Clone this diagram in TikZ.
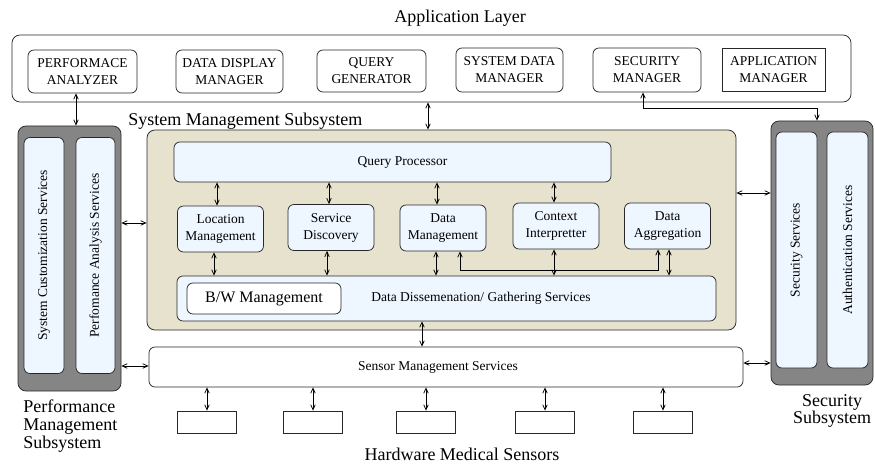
\documentclass[tikz,border=0pt]{standalone}
\usepackage{fontspec}
\setmainfont{Liberation Serif}
\usepackage{xcolor}
\usetikzlibrary{arrows.meta}
\definecolor{sysbeige}{RGB}{230,226,205}
\definecolor{svcblue}{RGB}{238,246,255}
\definecolor{subgray}{RGB}{133,133,133}
\definecolor{edgegray}{RGB}{40,40,40}

\begin{document}
\begin{tikzpicture}
	[x=1pt,y=-1pt,line width=0.75pt,>={Straight Barb[length=5pt,width=4.5pt]},
	every node/.style={font=\fontsize{13.5}{17}\selectfont,align=center,inner sep=0pt},
	bigl/.style={font=\fontsize{18}{18}\selectfont},
	box/.style={draw=edgegray,rounded corners=6pt},
	svc/.style={box,fill=svcblue,minimum width=86pt,minimum height=46pt},
	subsys/.style={draw=edgegray,fill=subgray,rounded corners=8pt},
	column/.style={svc,rotate=90,minimum width=236pt,minimum height=40pt}]
	\useasboundingbox (0,0) rectangle (875,465);
	\node[bigl] (applbl) at (460,18) {Application Layer};
	\node[box,rounded corners=8pt,minimum width=839pt,minimum height=67pt] (app) at (431.5,68.5) {};
	\node[box,minimum width=109pt,minimum height=43pt] (pa) at (82.5,71.5) {PERFORMACE\\ANALYZER};
	\node[box,minimum width=107pt,minimum height=43pt] (ddm) at (229.5,71.5) {DATA DISPLAY\\MANAGER};
	\node[box,minimum width=109pt,minimum height=42pt] (qg) at (371.5,71) {QUERY\\GENERATOR};
	\node[box,minimum width=107pt,minimum height=44pt] (sdm) at (509.5,70) {SYSTEM DATA\\MANAGER};
	\node[box,minimum width=108pt,minimum height=44pt] (sm) at (647,70) {SECURITY\\MANAGER};
	\node[draw=edgegray,minimum width=103pt,minimum height=43pt] (am) at (773.5,69.5) {APPLICATION\\MANAGER};
	\node[subsys,minimum width=103pt,minimum height=265pt] (perf) at (69.5,258.5) {};
	\node[column] (scs) at (44,255.5) {System Customization Services};
	\node[column,minimum height=39pt] (pas) at (95.5,255.5) {Perfomance Analysis Services};
	\node[subsys,minimum width=102pt,minimum height=264pt] (sec) at (822,253) {};
	\node[column,minimum height=41pt] (ss) at (796.5,250) {Security Services};
	\node[column,minimum height=41pt] (as) at (847.5,250) {Authentication Services};
	\node[bigl,anchor=west] (smslbl) at (128,121) {System Management Subsystem};
	\node[draw=edgegray,fill=sysbeige,rounded corners=8pt,minimum width=589pt,minimum height=200pt] (sys) at (441.5,230) {};
	\node[svc,minimum width=437pt,minimum height=40pt,label={[xshift=10pt]center:Query Processor}] (qp) at (392.5,162) {};
	\node[svc] (loc) at (220.5,229) {Location\\Management};
	\node[svc] (sd) at (331,227.5) {Service\\Discovery};
	\node[svc] (dm) at (443,228) {Data\\Management};
	\node[svc] (ci) at (556,226) {Context\\Interpretter};
	\node[svc] (da) at (667.5,226) {Data\\Aggregation};
	\node[svc,minimum width=539pt,minimum height=45pt,label={[xshift=34.5pt]center:Data Dissemenation/ Gathering Services}] (dd) at (446.5,298.5) {};
	\node[box,fill=white,minimum width=154pt,minimum height=31pt,font=\fontsize{16}{19}\selectfont] (bw) at (264,298.5) {B/W Management};
	\node[box,fill=white,minimum width=594pt,minimum height=40pt,label={[xshift=-8pt]center:Sensor Management Services}] (sensor) at (446,367) {};
	\node[bigl,align=left,anchor=west] (pmslbl) at (23,426) {Performance\\Management\\Subsystem};
	\node[bigl,font=\fontsize{18}{17}\selectfont] (sslbl) at (832,411) {Security\\Subsystem};
	\node[bigl] (hwlbl) at (462,454) {Hardware Medical Sensors};
	\foreach \x [count=\i] in {207,313,426,545,663}
	{
		\node[draw=edgegray,minimum width=59pt,minimum height=22pt] (hw\i) at (\x,422) {};
		\draw[<->] (hw\i.north) -- (hw\i.north |- sensor.south);
	}
	\draw[<->] (pa.south -| 76,0) -- (perf.north -| 76,0);
	\draw[<->] (app.south -| 428,0) -- (sys.north -| 428,0);
	\draw[<->] ([xshift=-4pt]sm.south) -- ++(0,16) -| ([xshift=-5pt]sec.north);
	\draw[<->] (perf.east |- 0,223) -- (sys.west |- 0,223);
	\draw[<->] (sys.east |- 0,193) -- (sec.west |- 0,193);
	\draw[<->] (perf.east |- 0,366) -- (sensor.west |- 0,366);
	\draw[<->] (sensor.east |- 0,363) -- (sec.west |- 0,363);
	\draw[<->] (dd.south -| 422,0) -- (sensor.north -| 422,0);
	\foreach \n/\x in {loc/217,sd/329,dm/437,ci/554}
		\draw[<->] (\n.north -| \x,0) -- (qp.south -| \x,0);
	\foreach \n/\x in {loc/214,sd/327,dm/436,ci/554,da/669}
		\draw[<->] (\n.south -| \x,0) -- (dd.north -| \x,0);
	\draw[<->] (dm.south -| 460,0) -- (460,270) -| (da.south -| 658,0);
\end{tikzpicture}
\end{document}
